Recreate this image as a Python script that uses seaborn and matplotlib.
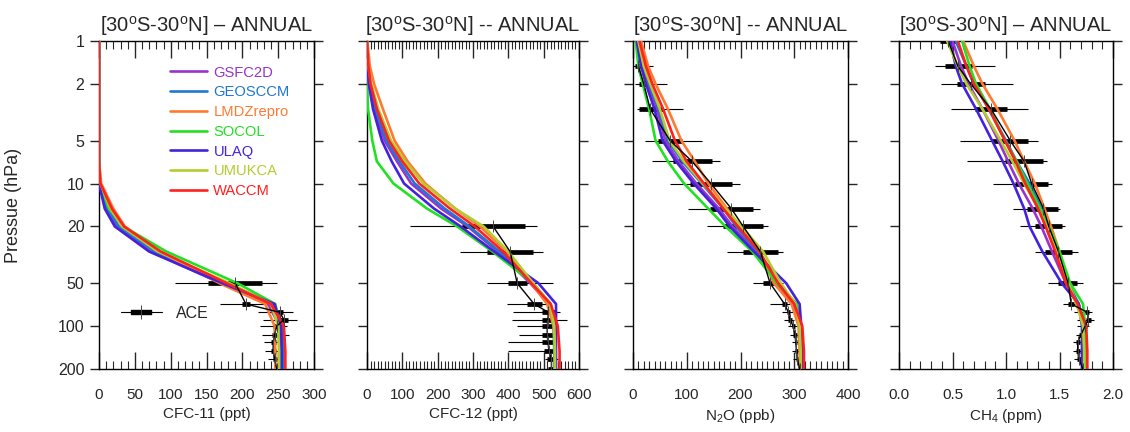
import numpy as np
import pandas as pd
import seaborn as sns
import matplotlib
matplotlib.use("Agg")
import matplotlib.pyplot as plt
from matplotlib.lines import Line2D
from matplotlib.legend_handler import HandlerTuple
from matplotlib.ticker import FixedLocator, NullLocator, MultipleLocator, FixedFormatter

# ---------------- data ----------------
models = ["GSFC2D", "GEOSCCM", "LMDZrepro", "SOCOL", "ULAQ", "UMUKCA", "WACCM"]
model_colors = ["#9933CC", "#1E78D2", "#FF7A30", "#22E022", "#4422DD", "#B5CC2E", "#FF2020"]

pressure = [1, 1.5, 2, 3, 5, 7, 10, 15, 20, 30, 50, 70, 100, 150, 200]

cfc11 = {
    "GSFC2D":    [0, 0, 0, 0, 0, 0, 1, 10, 25, 72, 170, 236, 252, 254, 254],
    "GEOSCCM":   [0, 0, 0, 0, 0, 0, 1, 12, 28, 78, 178, 244, 256, 257, 257],
    "LMDZrepro": [0, 0, 0, 0, 0, 0, 3, 20, 36, 85, 168, 232, 245, 246, 246],
    "SOCOL":     [0, 0, 0, 0, 0, 0, 1, 14, 34, 94, 193, 246, 253, 254, 254],
    "ULAQ":      [0, 0, 0, 0, 0, 0, 0, 8, 22, 70, 172, 245, 254, 255, 255],
    "UMUKCA":    [0, 0, 0, 0, 0, 0, 2, 16, 32, 82, 182, 240, 250, 251, 251],
    "WACCM":     [0, 0, 0, 0, 0, 0, 2, 18, 35, 86, 178, 240, 258, 260, 260],
}
cfc12 = {
    "GSFC2D":    [0, 2, 6, 20, 50, 85, 125, 210, 285, 370, 462, 515, 530, 532, 532],
    "GEOSCCM":   [0, 3, 8, 24, 55, 92, 135, 220, 290, 375, 465, 515, 528, 530, 530],
    "LMDZrepro": [1, 8, 20, 45, 78, 115, 165, 250, 320, 395, 465, 510, 528, 532, 532],
    "SOCOL":     [0, 0, 0, 3, 15, 28, 75, 170, 255, 355, 470, 520, 530, 532, 532],
    "ULAQ":      [0, 2, 5, 17, 42, 70, 105, 190, 265, 360, 485, 535, 535, 535, 535],
    "UMUKCA":    [0, 4, 12, 32, 68, 108, 160, 250, 330, 400, 470, 518, 530, 532, 532],
    "WACCM":     [0, 4, 10, 28, 62, 100, 148, 235, 305, 385, 465, 520, 540, 545, 545],
}
n2o = {
    "GSFC2D":    [8, 18, 28, 45, 60, 85, 118, 160, 185, 228, 268, 300, 310, 312, 312],
    "GEOSCCM":   [10, 20, 30, 48, 65, 92, 128, 168, 192, 232, 265, 298, 310, 312, 312],
    "LMDZrepro": [15, 28, 42, 65, 90, 115, 140, 175, 198, 236, 262, 295, 308, 310, 310],
    "SOCOL":     [5, 10, 18, 30, 42, 65, 95, 140, 172, 222, 268, 305, 312, 314, 314],
    "ULAQ":      [7, 15, 24, 40, 55, 80, 113, 155, 180, 225, 285, 310, 313, 314, 314],
    "UMUKCA":    [10, 20, 32, 50, 68, 95, 130, 172, 202, 242, 275, 302, 310, 312, 312],
    "WACCM":     [12, 24, 36, 56, 78, 100, 132, 168, 195, 235, 270, 300, 315, 318, 318],
}
ch4 = {
    "GSFC2D":    [0.50, 0.58, 0.65, 0.78, 0.93, 1.02, 1.12, 1.25, 1.33, 1.43, 1.56, 1.68, 1.72, 1.73, 1.73],
    "GEOSCCM":   [0.53, 0.63, 0.70, 0.84, 1.00, 1.10, 1.22, 1.33, 1.40, 1.48, 1.58, 1.68, 1.73, 1.74, 1.74],
    "LMDZrepro": [0.60, 0.70, 0.78, 0.92, 1.08, 1.17, 1.27, 1.36, 1.42, 1.50, 1.58, 1.66, 1.74, 1.75, 1.75],
    "SOCOL":     [0.59, 0.66, 0.72, 0.85, 0.99, 1.10, 1.20, 1.32, 1.40, 1.50, 1.60, 1.72, 1.74, 1.74, 1.74],
    "ULAQ":      [0.48, 0.53, 0.59, 0.72, 0.87, 0.97, 1.07, 1.17, 1.22, 1.34, 1.52, 1.68, 1.71, 1.71, 1.71],
    "UMUKCA":    [0.45, 0.55, 0.63, 0.78, 0.95, 1.06, 1.17, 1.30, 1.38, 1.48, 1.58, 1.66, 1.72, 1.73, 1.73],
    "WACCM":     [0.55, 0.63, 0.70, 0.84, 0.99, 1.09, 1.18, 1.30, 1.37, 1.46, 1.56, 1.67, 1.75, 1.76, 1.76],
}

ace_pressure = [1, 1.5, 2, 3, 5, 7, 10, 15, 20, 30, 50, 70, 80, 90, 100, 115, 130, 150, 170, 200]
nan = np.nan
# CFC-11 (ppt)
ace_cfc11_mean = [nan]*10 + [190, 205, 252, 258, 248, 245, 243, 243, 245, 248]
ace_cfc11_lo   = [nan]*10 + [152, 199, 248, 253, 243, 241, 240, 240, 243, 245]
ace_cfc11_hi   = [nan]*10 + [227, 211, 257, 264, 252, 248, 247, 247, 248, 252]
ace_cfc11_min  = [nan]*10 + [106, 169, 222, 229, 224, 228, 230, 232, 236, 240]
ace_cfc11_max  = [nan]*10 + [248, 234, 271, 276, 262, 265, 260, 256, 254, 256]
# CFC-12 (ppt)
ace_cfc12_mean = [nan]*8 + [357, 405, 425, 473, 513, 512, 510, 510, 512, 515, 522, 522]
ace_cfc12_lo   = [nan]*8 + [268, 339, 399, 452, 495, 495, 495, 495, 495, 500, 510, 513]
ace_cfc12_hi   = [nan]*8 + [447, 470, 452, 495, 532, 530, 525, 525, 530, 530, 535, 532]
ace_cfc12_min  = [nan]*8 + [122, 263, 339, 396, 413, 410, 424, 430, 400, 400, 505, 510]
ace_cfc12_max  = [nan]*8 + [481, 499, 527, 509, 546, 566, 537, 535, 535, 520, 540, 535]
# N2O (ppb)
ace_n2o_mean = [nan, 10, 20, 32, 69, 110, 145, 183, 205, 237, 255, 282, 289, 292, 298, 301, 303, 304, 306, 310]
ace_n2o_lo   = [nan, 4, 12, 12, 47, 74, 106, 143, 167, 205, 242, 277, 286, 289, 295, 298, 301, 301, 303, 307]
ace_n2o_hi   = [nan, 16, 28, 55, 91, 147, 184, 223, 242, 270, 268, 287, 292, 295, 301, 305, 305, 307, 309, 314]
ace_n2o_min  = [nan, 0, 4, 8, 22, 35, 69, 102, 138, 175, 223, 255, 277, 280, 288, 292, 296, 296, 298, 302]
ace_n2o_max  = [nan, 37, 63, 93, 128, 162, 199, 236, 251, 279, 279, 292, 298, 300, 305, 308, 309, 310, 312, 316]
# CH4 (ppm)
ace_ch4_mean = [0.46, 0.55, 0.67, 0.86, 1.04, 1.17, 1.24, 1.35, 1.40, 1.49, 1.58, 1.61, 1.76, 1.77, 1.74, 1.70, 1.67, 1.67, 1.68, 1.72]
ace_ch4_lo   = [0.38, 0.43, 0.54, 0.71, 0.87, 0.99, 1.08, 1.20, 1.27, 1.36, 1.49, 1.58, 1.74, 1.75, 1.72, 1.68, 1.65, 1.65, 1.66, 1.70]
ace_ch4_hi   = [0.54, 0.68, 0.80, 1.01, 1.21, 1.35, 1.39, 1.49, 1.52, 1.62, 1.66, 1.64, 1.78, 1.79, 1.76, 1.72, 1.69, 1.69, 1.70, 1.74]
ace_ch4_min  = [0.38, 0.34, 0.39, 0.49, 0.57, 0.64, 0.88, 1.07, 1.13, 1.27, 1.39, 1.53, 1.64, 1.66, 1.66, 1.65, 1.63, 1.63, 1.64, 1.68]
ace_ch4_max  = [0.54, 0.90, 1.07, 1.21, 1.30, 1.38, 1.43, 1.50, 1.55, 1.67, 1.72, 1.67, 1.80, 1.82, 1.78, 1.74, 1.71, 1.71, 1.72, 1.76]

pressure_ticks = [1, 2, 5, 10, 20, 50, 100, 200]
pressure_ticklabels = ["1", "2", "5", "10", "20", "50", "100", "200"]

panels = [
    dict(model=cfc11, ace=(ace_cfc11_mean, ace_cfc11_lo, ace_cfc11_hi, ace_cfc11_min, ace_cfc11_max),
         xlim=(0, 300), major=50, minor=10, fmt="{:.0f}",
         xlabel="CFC-11 (ppt)", title=r"[30$^{\rm o}$S-30$^{\rm o}$N] – ANNUAL"),
    dict(model=cfc12, ace=(ace_cfc12_mean, ace_cfc12_lo, ace_cfc12_hi, ace_cfc12_min, ace_cfc12_max),
         xlim=(0, 600), major=100, minor=10, fmt="{:.0f}",
         xlabel="CFC-12 (ppt)", title=r"[30$^{\rm o}$S-30$^{\rm o}$N] -- ANNUAL"),
    dict(model=n2o, ace=(ace_n2o_mean, ace_n2o_lo, ace_n2o_hi, ace_n2o_min, ace_n2o_max),
         xlim=(0, 400), major=100, minor=10, fmt="{:.0f}",
         xlabel=r"N$_{\rm 2}$O (ppb)", title=r"[30$^{\rm o}$S-30$^{\rm o}$N] -- ANNUAL"),
    dict(model=ch4, ace=(ace_ch4_mean, ace_ch4_lo, ace_ch4_hi, ace_ch4_min, ace_ch4_max),
         xlim=(0, 2.0), major=0.5, minor=0.1, fmt="{:.1f}",
         xlabel=r"CH$_{\rm 4}$ (ppm)", title=r"[30$^{\rm o}$S-30$^{\rm o}$N] – ANNUAL"),
]

# ---------------- style ----------------
sns.set_style("ticks")
plt.rcParams["font.family"] = ["Liberation Sans", "DejaVu Sans"]
plt.rcParams["mathtext.fontset"] = "custom"
plt.rcParams["mathtext.rm"] = "Liberation Sans"
plt.rcParams["mathtext.it"] = "Liberation Sans:italic"
plt.rcParams["axes.edgecolor"] = "black"
plt.rcParams["axes.linewidth"] = 1.0

W, H = 1130, 432
fig = plt.figure(figsize=(W / 100, H / 100), dpi=100)
fig.patch.set_facecolor("white")

ax_px = [(99, 314), (367, 579), (633, 848), (899, 1113)]
top_px, bot_px = 41, 369

palette = dict(zip(models, model_colors))

for i, (panel, (l, r)) in enumerate(zip(panels, ax_px)):
    ax = fig.add_axes([l / W, 1 - bot_px / H, (r - l) / W, (bot_px - top_px) / H])
    ax.set_yscale("log")

    rows = []
    for m in models:
        for p, v in zip(pressure, panel["model"][m]):
            rows.append((m, p, v))
    df = pd.DataFrame(rows, columns=["model", "pressure", "value"])

    # ACE observations
    mean, lo, hi, vmin, vmax = panel["ace"]
    ax.hlines(ace_pressure, vmin, vmax, color="black", lw=0.8, zorder=2)
    ax.hlines(ace_pressure, lo, hi, color="black", lw=3.4, zorder=2)

    sns.lineplot(data=df, x="value", y="pressure", hue="model", hue_order=models,
                 palette=palette, orient="y", sort=False, estimator=None,
                 legend=False, lw=1.9, ax=ax, zorder=3)

    ax.plot(mean, ace_pressure, color="black", lw=1.0, zorder=4)
    ax.plot(mean, ace_pressure, ls="none", marker="|", ms=8, mew=0.7,
            color="#444444", zorder=4)

    ax.set_xlim(*panel["xlim"])
    ax.set_ylim(200, 1)
    ax.yaxis.set_major_locator(FixedLocator(pressure_ticks))
    ax.yaxis.set_minor_locator(NullLocator())
    ax.yaxis.set_major_formatter(FixedFormatter(pressure_ticklabels))
    ax.xaxis.set_major_locator(MultipleLocator(panel["major"]))
    ax.xaxis.set_minor_locator(MultipleLocator(panel["minor"]))
    fmt = panel["fmt"]
    ax.xaxis.set_major_formatter(matplotlib.ticker.FuncFormatter(lambda v, pos, f=fmt: f.format(v)))

    ax.tick_params(axis="y", which="major", direction="out", length=6.5, width=1,
                   left=True, right=True, labelleft=(i == 0), labelsize=11.5, pad=4)
    ax.tick_params(axis="x", which="both", direction="in", top=True, bottom=True,
                   labelsize=11, pad=14)
    ax.tick_params(axis="x", which="major", length=12, width=1)
    ax.tick_params(axis="x", which="minor", length=6, width=0.8)
    for s in ax.spines.values():
        s.set_color("black")
        s.set_linewidth(1.0)

    ax.set_xlabel(panel["xlabel"], fontsize=11, labelpad=3)
    ax.set_ylabel("")
    ax.set_title(panel["title"], fontsize=14.5, pad=7)

    if i == 0:
        ax.set_ylabel("Pressue (hPa)", fontsize=13)
        ax.yaxis.set_label_coords(-0.36, 0.5)

        handles = [Line2D([], [], color=c, lw=1.9) for c in model_colors]
        leg = ax.legend(handles, models, loc="upper left", bbox_to_anchor=(0.33, 0.925),
                        frameon=False, fontsize=10.6, handlelength=2.55, handletextpad=0.4,
                        labelspacing=0.39, borderpad=0, borderaxespad=0)
        for t, c in zip(leg.get_texts(), model_colors):
            t.set_color(c)
        ax.add_artist(leg)

        rect = [(-1, -0.2), (1, -0.2), (1, 0.2), (-1, 0.2), (-1, -0.2)]
        h_thin = Line2D([], [], color="black", lw=0.8)
        h_thick = Line2D([], [], ls="none", marker=rect, ms=14, mfc="black", mec="black")
        h_tick = Line2D([], [], ls="none", marker="|", ms=10, mew=0.7, color="#444444")
        leg2 = ax.legend([(h_thin, h_thick, h_tick)], ["ACE"], loc="center left",
                         bbox_to_anchor=(0.10, 0.17), frameon=False, fontsize=11.5,
                         handlelength=2.6, handletextpad=0.85, borderpad=0, borderaxespad=0,
                         handler_map={tuple: HandlerTuple(ndivide=1, pad=0)})

fig.savefig("out.png", dpi=100, facecolor="white")
